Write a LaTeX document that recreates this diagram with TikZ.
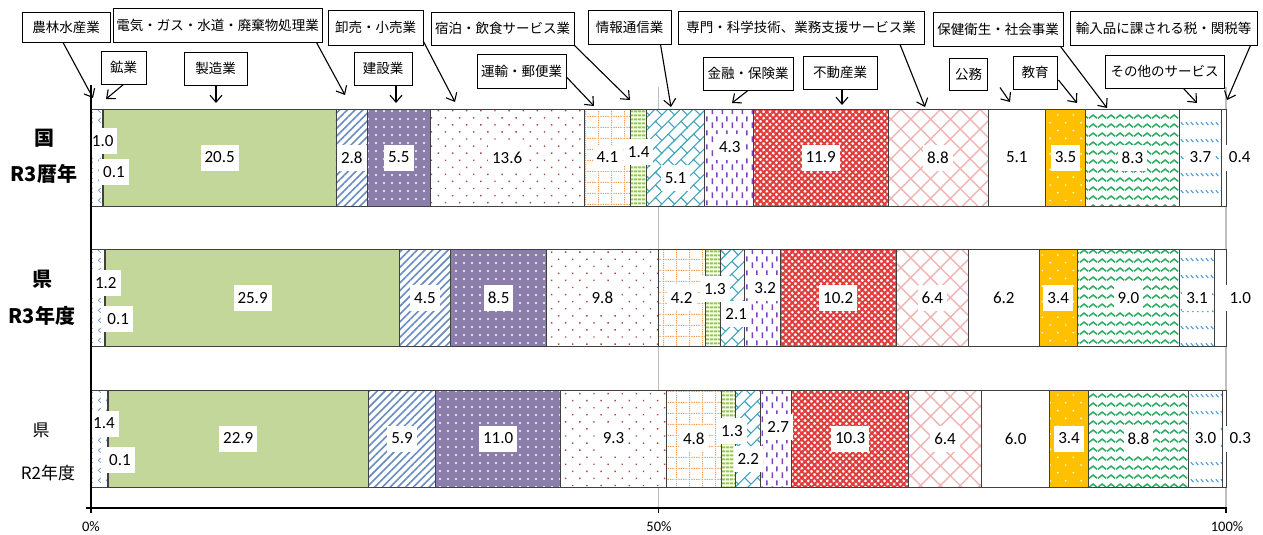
\documentclass[tikz,border=0pt]{standalone}
\usepackage{fontspec}
\setmainfont{Carlito}
\newfontfamily\jp{Noto Sans CJK JP}
\usetikzlibrary{patterns.meta,arrows.meta,calc}

\definecolor{cNourin}{HTML}{7FA6DA}
\definecolor{cKogyo}{HTML}{6B2A1E}
\definecolor{cSeizo}{HTML}{C4D79B}
\definecolor{cDenki}{HTML}{6A8CC0}
\definecolor{cKensetsu}{HTML}{8C7EAB}
\definecolor{cOroshi}{HTML}{B04848}
\definecolor{cUnyu}{HTML}{F79646}
\definecolor{cShuku}{HTML}{92C850}
\definecolor{cJoho}{HTML}{42A5BE}
\definecolor{cKinyu}{HTML}{8040C0}
\definecolor{cFudo}{HTML}{E03C3C}
\definecolor{cSenmon}{HTML}{F0B4B4}
\definecolor{cKyoiku}{HTML}{FFC000}
\definecolor{cHoken}{HTML}{2DAE64}
\definecolor{cSonota}{HTML}{4A9BE0}
\definecolor{cBorder}{HTML}{404040}
\definecolor{cGrid}{HTML}{BFBFBF}

\tikzdeclarepattern{
  name=Chev,
  bottom left={(0pt,0pt)}, top right={(8pt,10pt)},
  tile size={(8pt,10pt)},
  code={\draw[line width=0.9pt] (5pt,2.5pt) -- (2.5pt,5pt) -- (5pt,7.5pt);}
}
\tikzdeclarepattern{
  name=Brick,
  bottom left={(-1pt,-1pt)}, top right={(19pt,19pt)},
  tile size={(18pt,18pt)},
  tile transformation={rotate=45},
  code={\draw[line width=1.1pt] (-1pt,0pt)--(19pt,0pt) (-1pt,9pt)--(19pt,9pt) (0pt,0pt)--(0pt,9pt) (9pt,9pt)--(9pt,18pt);}
}
\tikzdeclarepattern{
  name=VDash,
  bottom left={(0pt,0pt)}, top right={(10pt,14pt)},
  tile size={(10pt,14pt)},
  code={\draw[line width=1.6pt] (2.5pt,1pt)--(2.5pt,7pt) (7.5pt,8pt)--(7.5pt,13.5pt);}
}
\tikzdeclarepattern{
  name=DotGrid,
  bottom left={(0pt,0pt)}, top right={(13pt,11pt)},
  tile size={(13pt,11pt)},
  code={\draw[line width=1.3pt, dash pattern=on 1.3pt off 1.2pt] (0pt,0.65pt)--(13pt,0.65pt) (0.65pt,0pt)--(0.65pt,11pt);}
}
\tikzdeclarepattern{
  name=Wave,
  bottom left={(0pt,0pt)}, top right={(9pt,9pt)},
  tile size={(9pt,9pt)},
  code={\draw[line width=1.7pt] (0pt,3pt) .. controls (1.6pt,3pt) and (2.9pt,6.5pt) .. (4.5pt,6.5pt) .. controls (6.1pt,6.5pt) and (7.4pt,3pt) .. (9pt,3pt);}
}
\tikzdeclarepattern{
  name=Slash,
  bottom left={(0pt,0pt)}, top right={(5pt,17pt)},
  tile size={(5pt,17pt)},
  code={\draw[line width=1.2pt] (1pt,5pt)--(4pt,2pt);}
}

\tikzset{
  seg/.style={draw=cBorder, line width=0.8pt},
  sNourin/.style={seg, preaction={fill=white}, pattern={Chev}, pattern color=cNourin},
  sKogyo/.style={seg, fill=cKogyo},
  sSeizo/.style={seg, fill=cSeizo},
  sDenki/.style={seg, preaction={fill=white}, pattern={Lines[angle=45,distance=5.5pt,line width=1.6pt]}, pattern color=cDenki},
  sKensetsu/.style={seg, preaction={fill=cKensetsu}, pattern={Dots[distance=8pt,radius=1.2pt]}, pattern color=white},
  sOroshi/.style={seg, preaction={fill=white}, pattern={Dots[distance=10pt,radius=1pt,angle=45]}, pattern color=cOroshi},
  sUnyu/.style={seg, preaction={fill=white}, pattern={DotGrid}, pattern color=cUnyu},
  sShuku/.style={seg, preaction={fill=white}, pattern={Lines[angle=0,distance=4pt,line width=2.4pt]}, pattern color=cShuku},
  sJoho/.style={seg, preaction={fill=white}, pattern={Brick}, pattern color=cJoho},
  sKinyu/.style={seg, preaction={fill=white}, pattern={VDash}, pattern color=cKinyu},
  sFudo/.style={seg, preaction={fill=white}, pattern={Hatch[angle=45,distance=4.5pt,line width=2pt]}, pattern color=cFudo},
  sSenmon/.style={seg, preaction={fill=white}, pattern={Hatch[angle=45,distance=14pt,line width=1.4pt]}, pattern color=cSenmon},
  sWhite/.style={seg, fill=white},
  sKyoiku/.style={seg, preaction={fill=cKyoiku}, pattern={Dots[distance=11pt,radius=1pt,angle=45]}, pattern color=white},
  sHoken/.style={seg, preaction={fill=white}, pattern={Wave}, pattern color=cHoken},
  sSonota/.style={seg, preaction={fill=white}, pattern={Slash}, pattern color=cSonota},
  vlab/.style={fill=white, font=\fontsize{17}{17}\selectfont, inner xsep=4pt, inner ysep=0pt, minimum height=26pt},
  callout/.style={draw=black, line width=0.9pt, fill=white, font=\jp\fontsize{13.5}{13.5}\selectfont, minimum height=33pt, inner sep=0pt},
  arr/.style={draw=black, line width=1.1pt, -{Straight Barb[length=7pt,width=12pt]}},
  catb/.style={font=\jp\bfseries\fontsize{20}{20}\selectfont, inner sep=0pt},
  catr/.style={font=\jp\fontsize{17}{17}\selectfont, inner sep=0pt},
  tick/.style={font=\fontsize{14.5}{14.5}\selectfont, inner sep=0pt},
}

\newcommand\drawbar[4]{%
  \pgfmathsetmacro\bsc{1135/#3}%
  \xdef\cum{0}%
  \foreach \v/\st/\dx/\dy in {#4}{
    \pgfmathsetmacro\xa{91+\cum*\bsc}
    \pgfmathsetmacro\nc{\cum+\v}
    \pgfmathsetmacro\xb{91+\nc*\bsc}
    \path[\st] (\xa,#2) rectangle (\xb,#2+97);
    \xdef\cum{\nc}
  }
  \xdef\cum{0}%
  \foreach \v/\st/\dx/\dy [count=\i] in {#4}{
    \pgfmathsetmacro\xa{91+\cum*\bsc}
    \pgfmathsetmacro\nc{\cum+\v}
    \pgfmathsetmacro\xb{91+\nc*\bsc}
    \node[vlab] (#1v\i) at ({(\xa+\xb)/2+\dx},{#2+48.5+\dy}) {\v};
    \xdef\cum{\nc}
  }
}

\begin{document}
\begin{tikzpicture}[x=1pt,y=-1pt]
\useasboundingbox (0,0) rectangle (1263,535);

% gridlines
\draw[cGrid, line width=1.5pt] (658.5,87) -- (658.5,508);
\draw[cGrid, line width=1.5pt] (1226,87) -- (1226,508);

% bars
\drawbar{A}{109}{100.1}{1.0/sNourin/6/-16.5, 0.1/sKogyo/11/14.5, 20.5/sSeizo/0/0, 2.8/sDenki/0/0, 5.5/sKensetsu/0/0, 13.6/sOroshi/0/0, 4.1/sUnyu/0/0, 1.4/sShuku/0/-5.5, 5.1/sJoho/0/20.5, 4.3/sKinyu/1/-10.5, 11.9/sFudo/0/0, 8.8/sSenmon/0/0, 5.1/sWhite/0/0, 3.5/sKyoiku/0/0, 8.3/sHoken/0/0, 3.7/sSonota/0/0, 0.4/sWhite/16/0}
\drawbar{B}{249.5}{100.1}{1.2/sNourin/8/-15, 0.1/sKogyo/13/21, 25.9/sSeizo/0/0, 4.5/sDenki/0/0, 8.5/sKensetsu/0/0, 9.8/sOroshi/0/0, 4.2/sUnyu/0/0, 1.3/sShuku/2/-9, 2.1/sJoho/4/16, 3.2/sKinyu/3/-10, 10.2/sFudo/0/0, 6.4/sSenmon/0/0, 6.2/sWhite/0/0, 3.4/sKyoiku/0/0, 9.0/sHoken/0/0, 3.1/sSonota/0/0, 1.0/sWhite/20/0}
\drawbar{C}{390}{99.8}{1.4/sNourin/5/-15, 0.1/sKogyo/12.5/21.5, 22.9/sSeizo/0/0, 5.9/sDenki/0/0, 11.0/sKensetsu/0/0, 9.3/sOroshi/0/0, 4.8/sUnyu/0/0, 1.3/sShuku/3.5/-7.5, 2.2/sJoho/0/20.5, 2.7/sKinyu/2/-11.5, 10.3/sFudo/0/0, 6.4/sSenmon/0/0, 6.0/sWhite/0/0, 3.4/sKyoiku/0/0, 8.8/sHoken/0/0, 3.0/sSonota/0/0, 0.3/sWhite/16/0}

% axes
\draw[black, line width=1.3pt] (91,85) -- (91,513);
\draw[black, line width=1.6pt] (86,508) -- (1227,508);
\draw[black, line width=1.3pt] (658.5,508) -- (658.5,513);
\draw[black, line width=1.3pt] (1226,508) -- (1226,513);

\node[tick] (t0) at (91,527) {0\%};
\node[tick] (t50) at (659,527) {50\%};
\node[tick] (t100) at (1227,527) {100\%};

% category labels
\node[catb] (c1a) at (44,138) {国};
\node[catb] (c1b) at (44,174) {R3暦年};
\node[catb] (c2a) at (42,279) {県};
\node[catb] (c2b) at (42,316) {R3年度};
\node[catr] (c3a) at (41,430) {県};
\node[catr] (c3b) at (48,473) {R2年度};

% callouts row 1
\node[callout, minimum width=88pt, minimum height=30pt] (nourin) at (66,27) {農林水産業};
\node[callout, minimum width=209pt, minimum height=34pt] (denki) at (217.5,25) {電気・ガス・水道・廃棄物処理業};
\node[callout, minimum width=95pt, minimum height=35pt] (oroshi) at (375.5,27.5) {卸売・小売業};
\node[callout, minimum width=143pt] (shuku) at (502.5,28.5) {宿泊・飲食サービス業};
\node[callout, minimum width=83pt, minimum height=34pt] (joho) at (629.5,27) {情報通信業};
\node[callout, minimum width=246pt] (senmon) at (801,27.5) {専門・科学技術、業務支援サービス業};
\node[callout, minimum width=130pt, minimum height=34pt] (hoken) at (998,29) {保健衛生・社会事業};
\node[callout, minimum width=187pt, minimum height=34pt] (yunyu) at (1163.5,28) {輸入品に課される税・関税等};
% callouts row 2
\node[callout, minimum width=45pt] (kogyo) at (123.5,67.5) {鉱業};
\node[callout, minimum width=63pt] (seizo) at (215.5,68.5) {製造業};
\node[callout, minimum width=58pt] (kensetsu) at (383,68.5) {建設業};
\node[callout, minimum width=89pt, minimum height=34pt] (unyu) at (521.5,71) {運輸・郵便業};
\node[callout, minimum width=90pt] (kinyu) at (748,73.5) {金融・保険業};
\node[callout, minimum width=74pt] (fudo) at (840,72.5) {不動産業};
\node[callout, minimum width=38pt, minimum height=32pt] (komu) at (968.5,74) {公務};
\node[callout, minimum width=44pt] (kyoiku) at (1035,72.5) {教育};
\node[callout, minimum width=119pt] (sonota) at (1164.5,71.5) {その他のサービス};

% arrow targets
\coordinate (tNourin) at (93,98);
\coordinate (tKogyo) at (106,99);
\coordinate (tSeizo) at (216,103);
\coordinate (tDenki) at (345,95);
\coordinate (tKensetsu) at (396,103);
\coordinate (tOroshi) at (455,102);
\coordinate (tShuku) at (630,100);
\coordinate (tUnyu) at (594,106);
\coordinate (tJoho) at (671,107);
\coordinate (tKinyu) at (732,103);
\coordinate (tFudo) at (842,105);
\coordinate (tSenmon) at (925,107);
\coordinate (tKomu) at (1010,102);
\coordinate (tKyoiku) at (1077,103);
\coordinate (tHoken) at (1107,108);
\coordinate (tSonota) at (1197,103);
\coordinate (tYunyu) at (1227,100);

\draw[arr] ($(nourin.south)+(-3,0)$) -- (tNourin);
\draw[arr] (kogyo.south) -- (tKogyo);
\draw[arr] ($(seizo.south)+(0.5,0)$) -- (tSeizo);
\draw[arr] ($(denki.south east)+(-6,0)$) -- (tDenki);
\draw[arr] ($(kensetsu.south)+(13,0)$) -- (tKensetsu);
\draw[arr] ($(oroshi.south east)+(0,-4)$) -- (tOroshi);
\draw[arr] (shuku.south east) -- (tShuku);
\draw[arr] ($(unyu.east)+(0,6)$) -- (tUnyu);
\draw[arr] ($(joho.south)+(31,0)$) -- (tJoho);
\draw[arr] (kinyu.south) -- (tKinyu);
\draw[arr] ($(fudo.south)+(2,0)$) -- (tFudo);
\draw[arr] ($(senmon.south)+(99,0)$) -- (tSenmon);
\draw[arr] ($(komu.south east)+(12,-3)$) -- (tKomu);
\draw[arr] ($(kyoiku.east)+(1,7.5)$) -- (tKyoiku);
\draw[arr] ($(hoken.south east)+(-3,0)$) -- (tHoken);
\draw[arr] ($(sonota.south)+(19,0)$) -- (tSonota);
\draw[arr] ($(yunyu.south east)+(-7,0)$) -- (tYunyu);
\end{tikzpicture}
\end{document}
